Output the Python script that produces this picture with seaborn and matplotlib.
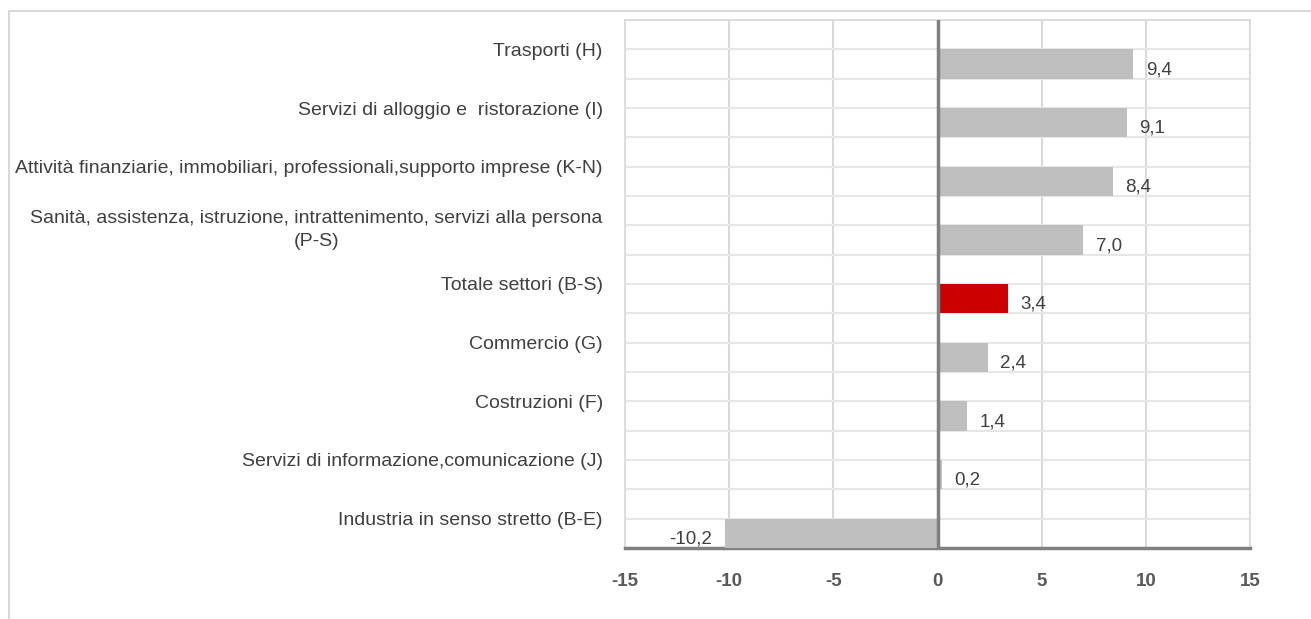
import numpy as np
import pandas as pd
import seaborn as sns
import matplotlib.pyplot as plt
from matplotlib.patches import Rectangle

# Dati
categorie = [
    'Trasporti (H)',
    'Servizi di alloggio e  ristorazione (I)',
    'Attività finanziarie, immobiliari, professionali,supporto imprese (K-N)',
    'Sanità, assistenza, istruzione, intrattenimento, servizi alla persona\n(P-S)',
    'Totale settori (B-S)',
    'Commercio (G)',
    'Costruzioni (F)',
    'Servizi di informazione,comunicazione (J)',
    'Industria in senso stretto (B-E)',
]
valori = [9.4, 9.1, 8.4, 7.0, 3.4, 2.4, 1.4, 0.2, -10.2]
serie_vuota = [0, 0, 0, 0, 0, 0, 0, 0, 0]
totale = 'Totale settori (B-S)'
x_ticks = [-15, -10, -5, 0, 5, 10, 15]

df = pd.DataFrame({
    'settore': categorie * 2,
    'valore': serie_vuota + valori,
    'serie': ['vuota'] * len(categorie) + ['variazione'] * len(categorie),
})

sns.set_style('white')
plt.rcParams['font.family'] = ['Liberation Sans', 'DejaVu Sans']

fig = plt.figure(figsize=(13.11, 6.19), dpi=100)
ax = fig.add_axes([625 / 1311, 1 - 548 / 619, 625 / 1311, 528 / 619])

sns.barplot(data=df, y='settore', x='valore', hue='serie',
            hue_order=['vuota', 'variazione'], order=categorie,
            palette={'vuota': '#FFFFFF', 'variazione': '#BFBFBF'},
            width=1.0, dodge=True, gap=0, errorbar=None,
            linewidth=0, legend=False, ax=ax, zorder=3)

barre = ax.containers[1]
barre[categorie.index(totale)].set_facecolor('#CC0000')

etichette = [f'{v:.1f}'.replace('.', ',') for v in valori]
testi = ax.bar_label(barre, labels=etichette, padding=9,
                     fontsize=13.5, color='#404040')
for t in testi:
    t.xyann = (t.xyann[0], -4)

ax.set_xlim(-15, 15)
ax.set_ylim(len(categorie) - 0.5, -0.5)
ax.set_xticks(x_ticks)
ax.set_xticklabels([str(v) for v in x_ticks], fontsize=13.5,
                   fontweight='bold', color='#595959')
ax.set_yticks(np.arange(-0.5, len(categorie), 1.0), minor=True)
ax.tick_params(axis='y', which='both', length=0, pad=16,
               labelsize=14, labelcolor='#404040')
ax.tick_params(axis='x', length=0, pad=18)
for lbl in ax.get_yticklabels():
    lbl.set_multialignment('center')
    lbl.set_linespacing(1.4)

ax.grid(axis='x', which='major', color='#D9D9D9', lw=1.5, zorder=0)
ax.grid(axis='y', which='both', color='#E6E6E6', lw=1.5, zorder=0)
ax.set_axisbelow(True)
ax.axvline(0, color='#808080', lw=2.5, zorder=4)

for lato in ['top', 'right', 'left']:
    ax.spines[lato].set_color('#D9D9D9')
    ax.spines[lato].set_linewidth(1.2)
ax.spines['bottom'].set_color('#808080')
ax.spines['bottom'].set_linewidth(2.5)
ax.set_xlabel('')
ax.set_ylabel('')

# bordo dell'area del grafico
fig.patches.append(Rectangle((9 / 1311, -0.1), 1.2, 1 - 11 / 619 + 0.1,
                             transform=fig.transFigure, fill=False,
                             edgecolor='#D9D9D9', lw=1.5))

fig.savefig('out.png', dpi=100)
